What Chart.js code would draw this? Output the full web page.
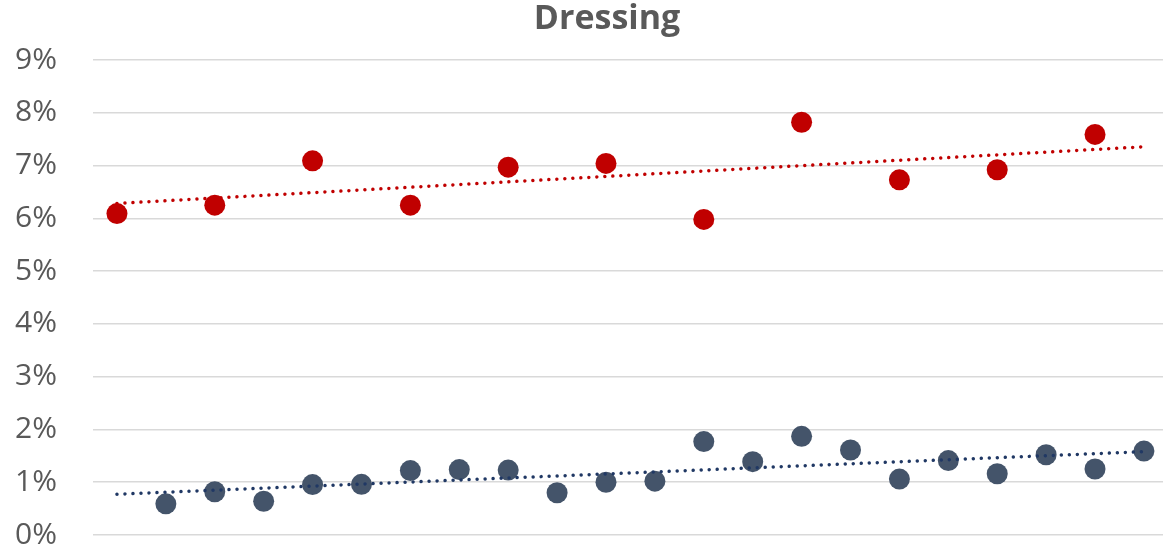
<!DOCTYPE html>
<html>
<head>
<meta charset="utf-8">
<title>Dressing</title>
<script src="https://cdn.jsdelivr.net/npm/chart.js@4/dist/chart.umd.min.js"></script>
<style>
  html, body { margin: 0; padding: 0; background: #ffffff; }
  #wrap { width: 1163px; height: 544px; position: relative; }
</style>
</head>
<body>
<div id="wrap"><canvas id="chart"></canvas></div>
<script>
// Period positions and share values (in %) for the two series
const redPeriods  = [0, 2, 4, 6, 8, 10, 12, 14, 16, 18, 20];
const redShare    = [6.09, 6.25, 7.09, 6.25, 6.97, 7.04, 5.98, 7.82, 6.73, 6.92, 7.59];

const bluePeriods = [1, 2, 3, 4, 5, 6, 7, 8, 9, 10, 11, 12, 13, 14, 15, 16, 17, 18, 19, 20, 21];
const blueShare   = [0.59, 0.82, 0.64, 0.955, 0.96, 1.22, 1.24, 1.23, 0.80, 1.00, 1.02,
                     1.77, 1.39, 1.87, 1.61, 1.06, 1.41, 1.16, 1.52, 1.25, 1.59];

// Y axis tick values (percent)
const yTickValues = [0, 1, 2, 3, 4, 5, 6, 7, 8, 9];

// Span of the linear trend lines
const trendFrom = 0;
const trendTo = 21;

const chartTitle = 'Dressing';

const RED = '#C00000';
const BLUE = '#44546A';
const BLUE_TREND = '#203864';
const TEXT = '#595959';

function toPoints(xs, ys) {
  return xs.map((x, i) => ({ x: x, y: ys[i] }));
}

// Least-squares linear fit, evaluated at the ends of the trend span
function linearTrend(xs, ys) {
  const n = xs.length;
  const mx = xs.reduce((a, b) => a + b, 0) / n;
  const my = ys.reduce((a, b) => a + b, 0) / n;
  let sxy = 0, sxx = 0;
  for (let i = 0; i < n; i++) {
    sxy += (xs[i] - mx) * (ys[i] - my);
    sxx += (xs[i] - mx) * (xs[i] - mx);
  }
  const slope = sxy / sxx;
  const icpt = my - slope * mx;
  return [trendFrom, trendTo].map(x => ({ x: x, y: icpt + slope * x }));
}

const titlePlugin = {
  id: 'centerTitle',
  afterDraw(chart) {
    const ctx = chart.ctx;
    ctx.save();
    ctx.font = 'bold 34px "Open Sans"';
    ctx.fillStyle = TEXT;
    ctx.textAlign = 'center';
    ctx.textBaseline = 'alphabetic';
    ctx.fillText(chartTitle, 607, 29);
    ctx.restore();
  }
};

const dotted = {
  type: 'line',
  showLine: true,
  fill: false,
  pointRadius: 0,
  borderWidth: 3.5,
  borderCapStyle: 'round',
  borderDash: [0.01, 8],
  tension: 0,
  order: 0
};

new Chart(document.getElementById('chart'), {
  type: 'scatter',
  data: {
    datasets: [
      Object.assign({}, dotted, {
        label: 'trend-red',
        data: linearTrend(redPeriods, redShare),
        borderColor: RED
      }),
      Object.assign({}, dotted, {
        label: 'trend-blue',
        data: linearTrend(bluePeriods, blueShare),
        borderColor: BLUE_TREND
      }),
      {
        label: 'red',
        data: toPoints(redPeriods, redShare),
        backgroundColor: RED,
        borderWidth: 0,
        pointRadius: 10.5,
        order: 1
      },
      {
        label: 'blue',
        data: toPoints(bluePeriods, blueShare),
        backgroundColor: BLUE,
        borderWidth: 0,
        pointRadius: 10.5,
        order: 1
      }
    ]
  },
  options: {
    responsive: true,
    maintainAspectRatio: false,
    animation: false,
    events: [],
    layout: { autoPadding: false, padding: { top: 60, bottom: 9, left: 0, right: 0 } },
    plugins: {
      legend: { display: false },
      title: { display: false },
      tooltip: { enabled: false }
    },
    scales: {
      x: {
        type: 'linear',
        display: false,
        min: -0.49,
        max: 21.39
      },
      y: {
        type: 'linear',
        min: 0,
        max: 9,
        afterBuildTicks(scale) {
          scale.ticks = yTickValues.map(v => ({ value: v }));
        },
        afterFit(scale) {
          scale.width = 93;
          scale.paddingTop = 0;
          scale.paddingBottom = 0;
        },
        border: { display: false },
        grid: {
          color: '#d9d9d9',
          lineWidth: 1.5,
          drawTicks: false
        },
        ticks: {
          padding: 36,
          color: TEXT,
          font: { family: '"Open Sans"', size: 30 },
          callback: v => v + '%'
        }
      }
    }
  },
  plugins: [titlePlugin]
});
</script>
</body>
</html>
